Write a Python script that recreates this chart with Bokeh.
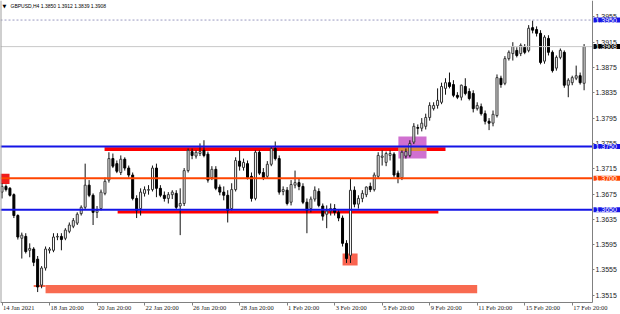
from bokeh.plotting import figure
from bokeh.models import (Range1d, LinearAxis, FixedTicker, Label, LabelSet,
                          ColumnDataSource, NumeralTickFormatter)
from bokeh.embed import file_html
from bokeh.resources import INLINE

FONT = "Liberation Sans"

symbol = "GBPUSD,H4"
quote = [1.3850, 1.3912, 1.3839, 1.3908]

opens = [1.3678, 1.3687, 1.3684, 1.3674, 1.3641, 1.3605, 1.3608, 1.3586, 1.3588, 1.3572,
         1.3531, 1.3558, 1.3586, 1.3586, 1.3607, 1.3608, 1.3605, 1.3616, 1.3624, 1.3629,
         1.3644, 1.3654, 1.3689, 1.3673, 1.3646, 1.3652, 1.3676, 1.3697, 1.3731, 1.3723,
         1.3709, 1.3730, 1.3716, 1.3705, 1.3668, 1.3652, 1.3676, 1.3681, 1.3682, 1.3716,
         1.3684, 1.3673, 1.3668, 1.3674, 1.3676, 1.3656, 1.3660, 1.3712, 1.3742, 1.3735,
         1.3739, 1.3744, 1.3738, 1.3701, 1.3714, 1.3686, 1.3678, 1.3673, 1.3652, 1.3682,
         1.3727, 1.3717, 1.3723, 1.3703, 1.3668, 1.3741, 1.3709, 1.3703, 1.3722, 1.3747,
         1.3731, 1.3679, 1.3681, 1.3662, 1.3689, 1.3693, 1.3687, 1.3662, 1.3652, 1.3667,
         1.3679, 1.3656, 1.3643, 1.3648, 1.3652, 1.3646, 1.3637, 1.3597, 1.3578, 1.3681,
         1.3659, 1.3668, 1.3674, 1.3687, 1.3682, 1.3703, 1.3733, 1.3725, 1.3736, 1.3738,
         1.3708, 1.3701, 1.3735, 1.3736, 1.3757, 1.3780, 1.3779, 1.3782, 1.3796, 1.3810,
         1.3815, 1.3820, 1.3842, 1.3851, 1.3848, 1.3831, 1.3828, 1.3845, 1.3837, 1.3834,
         1.3810, 1.3813, 1.3802, 1.3790, 1.3787, 1.3799, 1.3858, 1.3850, 1.3889, 1.3897,
         1.3902, 1.3897, 1.3907, 1.3902, 1.3938, 1.3935, 1.3929, 1.3885, 1.3921, 1.3899,
         1.3874, 1.3891, 1.3899, 1.3847, 1.3851, 1.3858, 1.3862, 1.3850]
highs = [1.3692, 1.3690, 1.3686, 1.3676, 1.3643, 1.3614, 1.3613, 1.3597, 1.3591, 1.3577,
         1.3561, 1.3592, 1.3591, 1.3613, 1.3613, 1.3613, 1.3621, 1.3630, 1.3637, 1.3646,
         1.3657, 1.3723, 1.3697, 1.3676, 1.3656, 1.3682, 1.3701, 1.3741, 1.3739, 1.3728,
         1.3736, 1.3733, 1.3720, 1.3709, 1.3673, 1.3684, 1.3687, 1.3689, 1.3720, 1.3723,
         1.3689, 1.3679, 1.3678, 1.3681, 1.3681, 1.3684, 1.3716, 1.3747, 1.3747, 1.3744,
         1.3755, 1.3760, 1.3742, 1.3719, 1.3719, 1.3690, 1.3687, 1.3681, 1.3692, 1.3733,
         1.3744, 1.3731, 1.3728, 1.3709, 1.3744, 1.3744, 1.3716, 1.3727, 1.3750, 1.3758,
         1.3736, 1.3687, 1.3686, 1.3697, 1.3712, 1.3700, 1.3692, 1.3668, 1.3671, 1.3687,
         1.3684, 1.3660, 1.3657, 1.3660, 1.3659, 1.3651, 1.3641, 1.3602, 1.3700, 1.3687,
         1.3673, 1.3681, 1.3687, 1.3693, 1.3709, 1.3741, 1.3744, 1.3742, 1.3744, 1.3741,
         1.3712, 1.3744, 1.3747, 1.3760, 1.3787, 1.3785, 1.3795, 1.3802, 1.3820, 1.3820,
         1.3842, 1.3851, 1.3858, 1.3867, 1.3855, 1.3836, 1.3848, 1.3858, 1.3842, 1.3839,
         1.3820, 1.3818, 1.3807, 1.3795, 1.3807, 1.3864, 1.3862, 1.3893, 1.3902, 1.3915,
         1.3907, 1.3913, 1.3912, 1.3942, 1.3949, 1.3940, 1.3934, 1.3926, 1.3926, 1.3902,
         1.3894, 1.3905, 1.3902, 1.3858, 1.3862, 1.3878, 1.3867, 1.3912]
lows = [1.3668, 1.3679, 1.3671, 1.3637, 1.3603, 1.3573, 1.3581, 1.3575, 1.3561, 1.3520,
        1.3526, 1.3554, 1.3581, 1.3583, 1.3602, 1.3586, 1.3602, 1.3613, 1.3621, 1.3626,
        1.3641, 1.3651, 1.3670, 1.3626, 1.3637, 1.3649, 1.3673, 1.3693, 1.3716, 1.3708,
        1.3705, 1.3712, 1.3701, 1.3665, 1.3637, 1.3641, 1.3671, 1.3674, 1.3679, 1.3670,
        1.3670, 1.3663, 1.3660, 1.3667, 1.3651, 1.3610, 1.3656, 1.3709, 1.3730, 1.3731,
        1.3735, 1.3733, 1.3693, 1.3697, 1.3681, 1.3673, 1.3665, 1.3630, 1.3649, 1.3679,
        1.3712, 1.3712, 1.3698, 1.3663, 1.3665, 1.3705, 1.3697, 1.3700, 1.3719, 1.3728,
        1.3674, 1.3673, 1.3657, 1.3657, 1.3684, 1.3681, 1.3659, 1.3613, 1.3646, 1.3663,
        1.3654, 1.3633, 1.3621, 1.3641, 1.3641, 1.3632, 1.3592, 1.3566, 1.3566, 1.3654,
        1.3652, 1.3662, 1.3670, 1.3678, 1.3679, 1.3700, 1.3720, 1.3719, 1.3728, 1.3701,
        1.3692, 1.3697, 1.3731, 1.3733, 1.3754, 1.3769, 1.3774, 1.3777, 1.3791, 1.3807,
        1.3810, 1.3817, 1.3832, 1.3842, 1.3828, 1.3825, 1.3823, 1.3831, 1.3823, 1.3804,
        1.3807, 1.3799, 1.3785, 1.3776, 1.3782, 1.3796, 1.3843, 1.3847, 1.3886, 1.3886,
        1.3891, 1.3893, 1.3896, 1.3899, 1.3929, 1.3924, 1.3880, 1.3881, 1.3894, 1.3867,
        1.3870, 1.3888, 1.3843, 1.3828, 1.3847, 1.3855, 1.3848, 1.3839]
closes = [1.3687, 1.3682, 1.3673, 1.3641, 1.3607, 1.3610, 1.3584, 1.3589, 1.3567, 1.3528,
          1.3558, 1.3588, 1.3588, 1.3607, 1.3608, 1.3603, 1.3618, 1.3626, 1.3633, 1.3643,
          1.3654, 1.3689, 1.3673, 1.3646, 1.3649, 1.3678, 1.3695, 1.3731, 1.3719, 1.3711,
          1.3730, 1.3716, 1.3705, 1.3668, 1.3649, 1.3678, 1.3682, 1.3682, 1.3716, 1.3684,
          1.3673, 1.3668, 1.3674, 1.3678, 1.3654, 1.3660, 1.3712, 1.3744, 1.3736, 1.3741,
          1.3742, 1.3736, 1.3697, 1.3714, 1.3684, 1.3678, 1.3673, 1.3649, 1.3682, 1.3728,
          1.3719, 1.3725, 1.3701, 1.3668, 1.3741, 1.3708, 1.3700, 1.3722, 1.3747, 1.3731,
          1.3678, 1.3682, 1.3660, 1.3690, 1.3693, 1.3687, 1.3662, 1.3649, 1.3667, 1.3681,
          1.3657, 1.3640, 1.3648, 1.3652, 1.3646, 1.3637, 1.3597, 1.3573, 1.3681, 1.3659,
          1.3668, 1.3676, 1.3686, 1.3682, 1.3705, 1.3736, 1.3735, 1.3739, 1.3739, 1.3705,
          1.3701, 1.3741, 1.3742, 1.3755, 1.3782, 1.3779, 1.3787, 1.3796, 1.3815, 1.3815,
          1.3823, 1.3845, 1.3851, 1.3845, 1.3831, 1.3828, 1.3847, 1.3834, 1.3826, 1.3810,
          1.3815, 1.3802, 1.3790, 1.3787, 1.3801, 1.3859, 1.3848, 1.3889, 1.3899, 1.3908,
          1.3894, 1.3910, 1.3899, 1.3937, 1.3934, 1.3929, 1.3883, 1.3923, 1.3899, 1.3870,
          1.3891, 1.3902, 1.3847, 1.3855, 1.3859, 1.3862, 1.3851, 1.3908]

date_tick_idx = [0, 12, 24, 36, 48, 60, 72, 84, 96, 108, 120, 132, 144]
date_tick_labels = ["14 Jan 2021", "18 Jan 20:00", "20 Jan 20:00", "22 Jan 20:00",
                    "26 Jan 20:00", "28 Jan 20:00", "1 Feb 20:00", "3 Feb 20:00",
                    "5 Feb 20:00", "9 Feb 20:00", "11 Feb 20:00", "15 Feb 20:00",
                    "17 Feb 20:00"]
price_ticks = [1.3515, 1.3555, 1.3595, 1.3635, 1.3675, 1.3715, 1.3755, 1.3795,
               1.3835, 1.3875, 1.3915, 1.3955]

# horizontal price levels
level_prices = [1.3950, 1.3908, 1.3750, 1.3700, 1.3650]
level_colors = ["#9A9AC0", "#C8C8C8", "#1414E6", "#FF4500", "#1414E6"]
level_widths = [1, 1, 2, 2, 2]
level_dashes = ["2 2", "solid", "solid", "solid", "solid"]
level_box_colors = ["#1414E6", "#000000", "#1414E6", "#FF4500", "#1414E6"]

# drawn zones (bar-index span, price span)
zone_left = [25.9, 29.2, -0.4, 86.0, 8.0, 11.0, 100.1, 100.1]
zone_right = [112.0, 110.2, 1.9, 89.8, 11.0, 120.0, 107.2, 107.2]
zone_bottom = [1.3743, 1.3644, 1.3691, 1.3562, 1.3528, 1.3518, 1.3731, 1.3743]
zone_top = [1.3749, 1.3649, 1.3707, 1.3581, 1.3531, 1.3531, 1.3766, 1.3749]
zone_colors = ["#FF0000", "#FF0000", "#F01C1C", "#FA6450", "#F86A50", "#F86A50",
               "#D070D0", "#E08840"]

# chart window: bar-index and price extents of the candle area
chart_x = (-0.38, 149.12)
chart_y = (1.35035, 1.39809)
px_per_bar = 592 / (chart_x[1] - chart_x[0])
px_per_price = 302 / (chart_y[1] - chart_y[0])

n = len(opens)
p = figure(width=620, height=314, output_backend="svg", toolbar_location=None,
           x_range=Range1d(chart_x[0], chart_x[1] + 28 / px_per_bar),
           y_range=Range1d(chart_y[0] - 12 / px_per_price, chart_y[1]),
           x_axis_location=None, y_axis_location=None,
           min_border_left=0, min_border_top=0, min_border_right=0, min_border_bottom=0)
p.grid.visible = False
p.outline_line_color = None
p.background_fill_color = "white"
p.border_fill_color = "white"

p.quad(left=zone_left, right=zone_right, bottom=zone_bottom, top=zone_top,
       fill_color=zone_colors, line_color=None)

xs = list(range(n))
p.segment(x0=xs, y0=highs, x1=xs, y1=lows, line_color="#111111", line_width=1)
bull = [i for i in xs if closes[i] >= opens[i]]
bear = [i for i in xs if closes[i] < opens[i]]
bull_src = ColumnDataSource(dict(x=bull, top=[closes[i] for i in bull], bottom=[opens[i] for i in bull]))
bear_src = ColumnDataSource(dict(x=bear, top=[opens[i] for i in bear], bottom=[closes[i] for i in bear]))
p.vbar(x="x", top="top", bottom="bottom", width=0.5, source=bull_src,
       fill_color="white", line_color="#333333", line_width=1)
p.vbar(x="x", top="top", bottom="bottom", width=0.5, source=bear_src,
       fill_color="black", line_color="black", line_width=1)

for pr, c, w, d in zip(level_prices, level_colors, level_widths, level_dashes):
    p.segment(x0=[chart_x[0]], y0=[pr], x1=[chart_x[1]], y1=[pr],
              line_color=c, line_width=w, line_dash=d)
p.segment(x0=[chart_x[0]], y0=[chart_y[0]], x1=[chart_x[0]], y1=[chart_y[1]],
          line_color="#A0A0A0", line_width=2)

ry = LinearAxis(ticker=FixedTicker(ticks=price_ticks), formatter=NumeralTickFormatter(format="0.0000"),
                fixed_location=chart_x[1], bounds=chart_y,
                major_tick_out=2, major_tick_in=0, minor_tick_out=0, minor_tick_in=0,
                major_label_standoff=1, major_label_text_font_size="7px",
                major_label_text_font=FONT, major_label_text_color="#222222",
                axis_line_color="#808080", major_tick_line_color="#808080")
p.add_layout(ry, "right")

bx = LinearAxis(ticker=FixedTicker(ticks=date_tick_idx), fixed_location=chart_y[0], bounds=chart_x,
                major_tick_out=3, major_tick_in=0, minor_tick_out=0, minor_tick_in=0,
                major_label_text_font_size="1px", major_label_text_alpha=0,
                major_label_standoff=0,
                axis_line_color="#808080", major_tick_line_color="#808080")
p.add_layout(bx, "below")

date_src = ColumnDataSource(dict(x=date_tick_idx, text=date_tick_labels))
p.add_layout(LabelSet(x="x", y=11, y_units="screen", text="text", source=date_src,
                      x_offset=1, text_align="left", text_baseline="top",
                      text_font=FONT, text_font_size="6.5px", text_color="#222222"))

for pr, bc in zip(level_prices, level_box_colors):
    p.add_layout(Label(x=chart_x[1], y=pr, x_offset=1, text=f"{pr:.4f}",
                       text_align="left", text_baseline="middle", text_font=FONT,
                       text_font_size="7px", text_color="white",
                       background_fill_color=bc,
                       padding=dict(left=2, right=4, top=0, bottom=0)))

p.add_layout(Label(x=2, y=309, x_units="screen", y_units="screen", text="\u25BC",
                   text_font="DejaVu Sans", text_font_size="5px", text_baseline="middle",
                   text_color="black"))
title = symbol + "  " + " ".join(f"{v:.4f}" for v in quote)
p.add_layout(Label(x=10, y=309, x_units="screen", y_units="screen", text=title,
                   text_font=FONT, text_font_size="5px", text_baseline="middle",
                   text_color="black"))

open("out.html", "w").write(file_html(p, INLINE))
